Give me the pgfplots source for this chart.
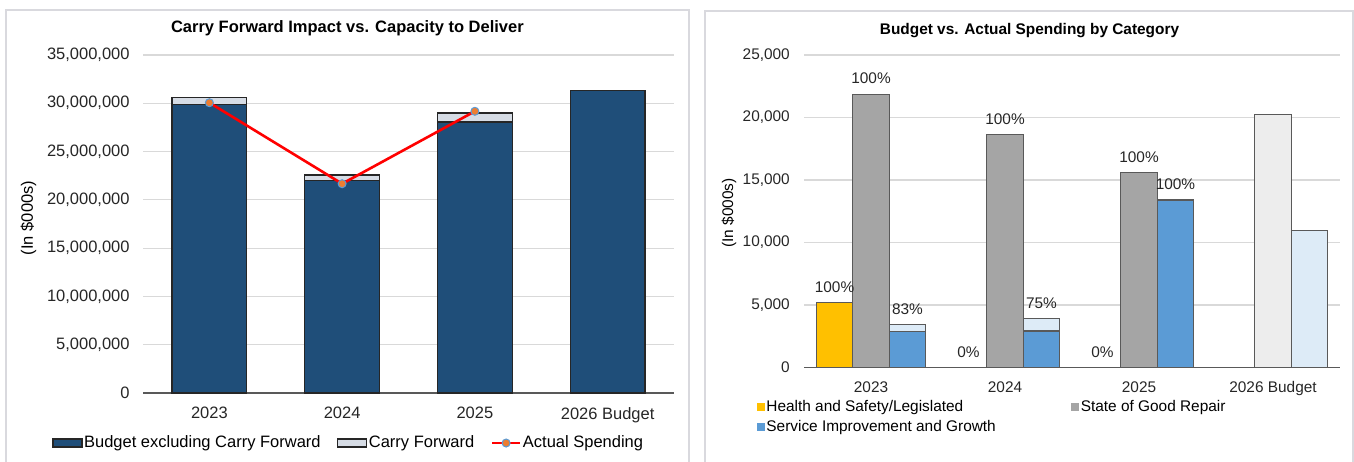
\documentclass[border=0pt]{standalone}
\usepackage{fontspec}
\setmainfont{Liberation Sans}
\usepackage{pgfplots}
\pgfplotsset{compat=1.18}

\definecolor{navy}{HTML}{1F4E79}
\definecolor{cfgray}{HTML}{D6DCE5}
\definecolor{spend}{HTML}{FF0000}
\definecolor{mkorange}{HTML}{ED7D31}
\definecolor{mkblue}{HTML}{5B9BD5}
\definecolor{hsyellow}{HTML}{FFC000}
\definecolor{sgray}{HTML}{A5A5A5}
\definecolor{sblue}{HTML}{5B9BD5}
\definecolor{lblue}{HTML}{DDEBF7}
\definecolor{lgray}{HTML}{EDEDED}
\definecolor{gridc}{HTML}{D9D9D9}
\definecolor{axisc}{HTML}{595959}
\definecolor{framec}{HTML}{D9D9DE}

\pgfplotsset{
  excel/.style={
    scale only axis, enlargelimits=false,
    xmin=-0.5, xmax=3.5,
    xtick={0,1,2,3}, xticklabels={2023,2024,2025,2026 Budget},
    separate axis lines,
    axis x line*=bottom, axis y line*=left,
    x axis line style={axisc, line width=0.6pt},
    y axis line style={draw=none},
    major tick length=0pt,
    ymajorgrids, grid style={gridc, line width=0.6pt},
    scaled y ticks=false,
    y tick label style={/pgf/number format/fixed, /pgf/number format/precision=0,
      /pgf/number format/1000 sep={,}, /pgf/number format/assume math mode=true,
      inner sep=0pt},
    x tick label style={inner sep=0pt},
    tick label style={text=black!85},
    legend cell align=left,
  },
  barleg/.style={legend image code/.code={\draw[##1] (0pt,-2pt) rectangle (14.5pt,2pt);}},
  sqleg/.style={legend image code/.code={\fill[##1, draw=none] (0pt,-2pt) rectangle (4pt,2pt);}},
  spendline/.style={spend, line width=1.3pt, mark=*, mark size=2pt,
    mark options={fill=mkorange, draw=mkblue, line width=0.5pt, solid},
    legend image code/.code={\draw[mark repeat=2, mark phase=2, ##1, sharp plot]
      plot coordinates {(0pt,0pt) (7pt,0pt) (14pt,0pt)};}},
}

\begin{document}
\begin{tikzpicture}
\useasboundingbox (0,0) rectangle (677pt,230.5pt);
% panel frames
\draw[framec, line width=0.75pt] (3pt,-2pt) -- (3pt,225.5pt) -- (344.5pt,225.5pt) -- (344.5pt,-2pt);
\draw[framec, line width=0.75pt] (352.5pt,-2pt) -- (352.5pt,225pt) -- (676.5pt,225pt) -- (676.5pt,-2pt);

% left: carry forward
\begin{axis}[excel,
  at={(71.5pt,34pt)}, anchor=south west, width=265.5pt, height=169pt,
  font=\fontsize{8.25}{9.9}\selectfont,
  ymin=0, ymax=35000000,
  ytick={0,5000000,10000000,15000000,20000000,25000000,30000000,35000000},
  xticklabel shift=7pt, yticklabel shift=6.5pt,
  ybar stacked, bar width=0.562,
  title={Carry Forward Impact vs. Capacity to Deliver},
  title style={at={(0.385,1.083)}, anchor=center, inner sep=0pt, yshift=-6.5pt,
    font=\fontsize{8.25}{9.9}\selectfont\bfseries},
  ylabel={(In \$000s)},
  ylabel style={at={(-0.2156,0.5178)}, anchor=center, inner sep=0pt},
  legend columns=-1,
  legend style={at={(0.387,-0.148)}, anchor=center, draw=none, fill=none,
    inner sep=0pt, nodes={inner sep=0.75pt},
    /tikz/every even column/.append style={column sep=7.5pt}},
]
\addplot[fill=navy, draw=black!85, line width=0.6pt, barleg]
  coordinates {(0,29900000) (1,21980000) (2,28060000) (3,31350000)};
\addlegendentry{Budget excluding Carry Forward}
\addplot[fill=cfgray, draw=black!85, line width=0.6pt, barleg]
  coordinates {(0,680000) (1,590000) (2,930000) (3,0)};
\addlegendentry{Carry Forward}
\addlegendimage{spendline}
\addlegendentry{Actual Spending}
\end{axis}

% left: actual spending line, same frame
\begin{axis}[scale only axis, enlargelimits=false,
  at={(71.5pt,34pt)}, anchor=south west, width=265.5pt, height=169pt,
  xmin=-0.5, xmax=3.5, ymin=0, ymax=35000000, axis lines=none, scaled y ticks=false]
\addplot[spendline] coordinates {(0,30060000) (1,21670000) (2,29170000)};
\end{axis}

% right: by category
\begin{axis}[excel,
  at={(402pt,46.75pt)}, anchor=south west, width=268pt, height=156.25pt,
  font=\fontsize{7.7}{9.2}\selectfont,
  ymin=0, ymax=25000, ytick={0,5000,10000,15000,20000,25000},
  xticklabel shift=6.85pt, yticklabel shift=6.9pt,
  ybar, bar width=0.272,
  title={Budget vs. Actual Spending by Category},
  title style={at={(0.4207,1.0816)}, anchor=center, inner sep=0pt, yshift=-6.5pt,
    font=\fontsize{7.7}{9.2}\selectfont\bfseries},
  ylabel={(In \$000s)},
  ylabel style={at={(-0.140,0.4944)}, anchor=center, inner sep=0pt},
  every node near coord/.append style={inner sep=0pt, yshift=4.7pt, text=black!85},
  legend columns=2,
  legend style={at={(-0.0886,-0.0986)}, anchor=north west, draw=none, fill=none,
    inner sep=0pt, row sep=1.3pt,
    nodes={inner sep=0.75pt, text height=5.6pt, text depth=1.6pt},
    /tikz/every even column/.append style={column sep=37pt}},
]
\addplot[fill=hsyellow, draw=black!65, line width=0.6pt, bar shift=-0.272, sqleg,
  nodes near coords, point meta=explicit symbolic]
  coordinates {(0,5200) [100\%] (1,0) [0\%] (2,0) [0\%]};
\addlegendentry{Health and Safety/Legislated}
\addplot[fill=lgray, draw=black!65, line width=0.6pt, bar shift=0, forget plot]
  coordinates {(0,21870) (1,18620) (2,15600) (3,20270)};
\addplot[fill=sgray, draw=black!65, line width=0.6pt, bar shift=0, sqleg,
  nodes near coords, point meta=explicit symbolic]
  coordinates {(0,21870) [100\%] (1,18620) [100\%] (2,15600) [100\%]};
\addlegendentry{State of Good Repair}
\addplot[fill=lblue, draw=black!65, line width=0.6pt, bar shift=0.272, forget plot,
  nodes near coords, point meta=explicit symbolic]
  coordinates {(0,3450) [83\%] (1,3900) [75\%] (2,13400) [100\%] (3,10980) []};
\addplot[fill=sblue, draw=black!65, line width=0.6pt, bar shift=0.272, sqleg]
  coordinates {(0,2860) (1,2925) (2,13400)};
\addlegendentry{Service Improvement and Growth}
\end{axis}
\end{tikzpicture}
\end{document}
